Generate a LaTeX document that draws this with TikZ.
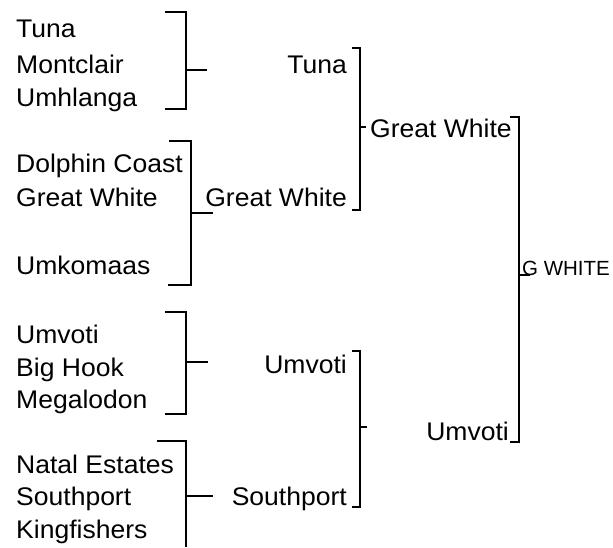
\documentclass[tikz,border=0pt]{standalone}
\usepackage{fontspec}
\setmainfont{Liberation Sans}
\begin{document}
\begin{tikzpicture}[x=1pt,y=-1pt,
  team/.style={font=\fontsize{25.5}{30}\selectfont, inner sep=0pt, xscale=1.04, transform shape},
  lbl/.style={team, anchor=base west},
  rlbl/.style={team, anchor=base east},
  brk/.style={line width=1.8pt},
  brkb/.style={line width=1.3pt}]
\useasboundingbox (0,0) rectangle (613,547);
% round 1 teams
\node[lbl] (t1) at (16,37) {Tuna};
\node[lbl] (t2) at (16,73) {Montclair};
\node[lbl] (t3) at (16,106) {Umhlanga};
\node[lbl] (t4) at (16,172) {Dolphin Coast};
\node[lbl] (t5) at (16,206) {Great White};
\node[lbl] (t6) at (16,274) {Umkomaas};
\node[lbl] (t7) at (16,343) {Umvoti};
\node[lbl] (t8) at (16,376) {Big Hook};
\node[lbl] (t9) at (16,408) {Megalodon};
\node[lbl] (t10) at (16,473) {Natal Estates};
\node[lbl] (t11) at (16,505) {Southport};
\node[lbl] (t12) at (16,538) {Kingfishers};
% round 1 brackets
\coordinate (a1) at (165,12); \coordinate (a2) at (186,12);
\coordinate (a3) at (186,109); \coordinate (a4) at (165,109);
\coordinate (am) at (186,70); \coordinate (ae) at (207,70);
\draw[brk] (a1) -- (a2) -- (a3) -- (a4);
\draw[brk] (am) -- (ae);
\coordinate (b1) at (169,141); \coordinate (b2) at (191,141);
\coordinate (b3) at (191,285); \coordinate (b4) at (168,285);
\coordinate (bm) at (191,213); \coordinate (be) at (213,213);
\draw[brk] (b1) -- (b2) -- (b3) -- (b4);
\draw[brk] (bm) -- (be);
\coordinate (c1) at (165,312); \coordinate (c2) at (186,312);
\coordinate (c3) at (186,414); \coordinate (c4) at (165,414);
\coordinate (cm) at (186,362); \coordinate (ce) at (208,362);
\draw[brk] (c1) -- (c2) -- (c3) -- (c4);
\draw[brk] (cm) -- (ce);
\coordinate (d1) at (157,441); \coordinate (d2) at (186,441);
\coordinate (d3) at (186,547);
\coordinate (dm) at (186,496); \coordinate (de) at (213,496);
\draw[brk] (d1) -- (d2) -- (d3);
\draw[brk] (dm) -- (de);
% round 2 teams
\node[rlbl] (s1) at (347,73) {Tuna};
\node[rlbl] (s2) at (347,206) {Great White};
\node[rlbl] (s3) at (347,373) {Umvoti};
\node[rlbl] (s4) at (347,505) {Southport};
% round 2 brackets
\coordinate (e1) at (352,48); \coordinate (e2) at (360,48);
\coordinate (e3) at (360,210); \coordinate (e4) at (352,210);
\coordinate (em) at (360,127); \coordinate (ee) at (366,127);
\draw[brkb] (e1) -- (e2) -- (e3) -- (e4);
\draw[brkb] (em) -- (ee);
\coordinate (f1) at (352,351); \coordinate (f2) at (360,351);
\coordinate (f3) at (360,507); \coordinate (f4) at (352,507);
\coordinate (fm) at (360,427); \coordinate (fe) at (367,427);
\draw[brkb] (f1) -- (f2) -- (f3) -- (f4);
\draw[brkb] (fm) -- (fe);
% round 3 teams
\node[lbl] (u1) at (370,137) {Great White};
\node[rlbl] (u2) at (509,440) {Umvoti};
% final bracket
\coordinate (g1) at (510,117); \coordinate (g2) at (519,117);
\coordinate (g3) at (519,442); \coordinate (g4) at (510,442);
\coordinate (gm) at (519,275); \coordinate (ge) at (530,275);
\draw[brkb] (g1) -- (g2) -- (g3) -- (g4);
\draw[brkb] (gm) -- (ge);
\node[font=\fontsize{20.5}{24}\selectfont, inner sep=0pt, anchor=base west] (w) at (522,275) {G WHITE};
\end{tikzpicture}
\end{document}
